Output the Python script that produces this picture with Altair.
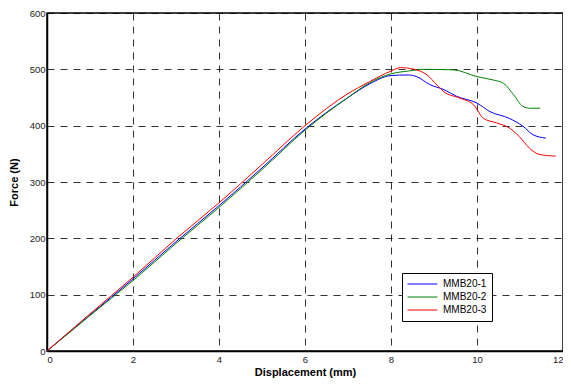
import altair as alt
import pandas as pd

series_names = ["MMB20-1", "MMB20-2", "MMB20-3"]
colors = ["#0000ff", "#008000", "#ff0000"]

x1 = [0, 1, 2, 3, 4, 5, 6, 7, 7.5, 8, 8.4, 8.6, 8.9, 9.23, 9.53, 10, 10.3, 10.75, 11.07, 11.3, 11.6]
y1 = [0, 64, 128, 194, 258, 325, 394, 450, 474, 489, 490, 487, 473, 464, 452, 440, 425, 413, 399, 384, 378]

x2 = [0, 1, 2, 3, 4, 5, 6, 7, 7.5, 8, 8.4, 8.77, 9.46, 10, 10.38, 10.62, 10.85, 11.07, 11.22, 11.47]
y2 = [0, 63, 125, 191, 255, 322, 392, 450, 476, 492, 497, 500, 499, 487, 481, 475, 455, 434, 431, 431]

x3 = [0, 1, 2, 3, 4, 5, 6, 7, 7.5, 8, 8.22, 8.54, 8.84, 9.07, 9.23, 9.6, 9.92, 10.15, 10.45, 10.75, 10.98, 11.22, 11.45, 11.83]
y3 = [0, 66, 131, 199, 263, 331, 400, 457, 478, 497, 503, 500, 490, 472, 460, 449, 437, 413, 405, 396, 381, 360, 349, 346]

rows = []
for name, xs, ys in zip(series_names, [x1, x2, x3], [y1, y2, y3]):
    for i, (a, b) in enumerate(zip(xs, ys)):
        rows.append({"series": name, "x": a, "y": b, "order": i})
df = pd.DataFrame(rows)

font = "Liberation Sans"

base = alt.Chart(df).mark_line(strokeWidth=1, interpolate="monotone").encode(
    x=alt.X("x:Q", scale=alt.Scale(domain=[0, 12], nice=False),
            axis=alt.Axis(title="Displacement (mm)", values=[0, 2, 4, 6, 8, 10, 12],
                          format="d", titlePadding=3)),
    y=alt.Y("y:Q", scale=alt.Scale(domain=[0, 600], nice=False),
            axis=alt.Axis(title="Force (N)", values=[0, 100, 200, 300, 400, 500, 600],
                          format="d", titlePadding=10, labelPadding=2)),
    color=alt.Color("series:N", scale=alt.Scale(domain=series_names, range=colors),
                    legend=alt.Legend(title=None, orient="none", legendX=355, legendY=260,
                                      symbolType="stroke", symbolSize=900, symbolStrokeWidth=1,
                                      strokeColor="black", fillColor="white", padding=5,
                                      clipHeight=12, labelOffset=5,
                                      labelFont=font, labelFontSize=10, labelColor="#000",
                                      rowPadding=1)),
    order="order:Q",
)

chart = base.properties(
    width=516, height=338,
    autosize=alt.AutoSizeParams(type="none"),
    padding={"left": 39, "top": 5, "right": 0, "bottom": 29},
).configure_view(
    stroke="black", strokeWidth=1.5
).configure_axis(
    grid=True, gridColor="black", gridDash=[7, 6], gridOpacity=0.8, gridWidth=1,
    domainColor="black", domainWidth=1.5, ticks=False,
    labelFont=font, labelFontSize=9.5, labelColor="#222", labelPadding=3,
    titleFont=font, titleFontSize=11, titleFontWeight="bold", titleColor="#000",
)

chart.save("out.html", embed_options={"renderer": "svg", "actions": False})
